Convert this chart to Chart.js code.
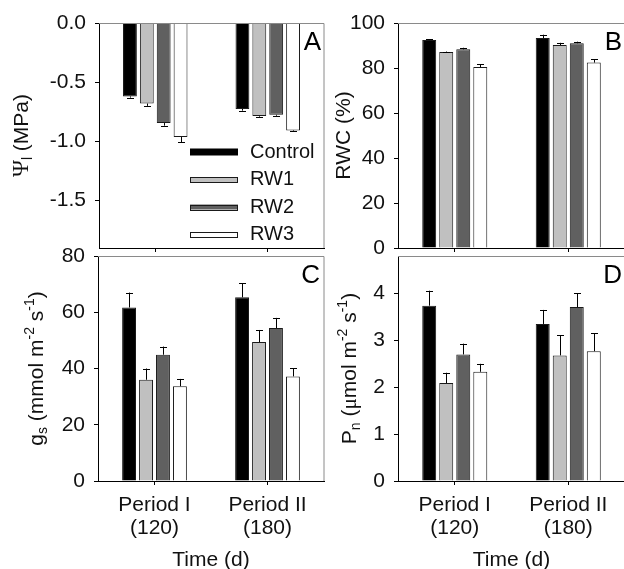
<!DOCTYPE html>
<html>
<head>
<meta charset="utf-8">
<script src="https://cdn.jsdelivr.net/npm/chart.js@4.4.1/dist/chart.umd.min.js"></script>
<style>
html, body { margin: 0; padding: 0; background: #fff; width: 624px; height: 569px; overflow: hidden; }
canvas { position: absolute; }
</style>
</head>
<body>
<canvas id="panelA" width="330" height="270" style="left:0;top:0"></canvas>
<canvas id="panelB" width="300" height="270" style="left:330px;top:0"></canvas>
<canvas id="panelC" width="330" height="338" style="left:0;top:234px"></canvas>
<canvas id="panelD" width="300" height="338" style="left:330px;top:234px"></canvas>
<script>
// categories and groups
const periods = [['Period I', '(120)'], ['Period II', '(180)']];
const treatments = ['Control', 'RW1', 'RW2', 'RW3'];
const fills = ['#000000', '#c0c0c0', '#606060', '#ffffff'];

// one row per treatment: [Period I, Period II]
const psiMean = [[-0.62, -0.726], [-0.68, -0.785], [-0.845, -0.775], [-0.963, -0.907]];
const psiErr  = [[0.01, 0.014], [0.02, 0.006], [0.022, 0.008], [0.045, 0.008]];
const rwcMean = [[92.4, 93.3], [87.1, 90.2], [88.3, 91.0], [80.4, 82.4]];
const rwcErr  = [[0.4, 1.5], [0.2, 1.0], [0.7, 0.7], [1.2, 1.5]];
const gsMean  = [[61.7, 65.3], [36.0, 49.4], [44.9, 54.4], [33.7, 37.2]];
const gsErr   = [[5.3, 5.1], [4.0, 4.3], [2.9, 3.6], [2.6, 2.9]];
const pnMean  = [[3.74, 3.35], [2.09, 2.68], [2.70, 3.71], [2.33, 2.77]];
const pnErr   = [[0.32, 0.30], [0.22, 0.43], [0.23, 0.30], [0.17, 0.38]];

// y tick settings
const psiTicks = { min: -1.9, max: 0, step: 0.5 };
const rwcTicks = { min: 0, max: 100, step: 20 };
const gsTicks  = { min: 0, max: 80, step: 20 };
const pnTicks  = { min: 0, max: 4.8, step: 1 };

const SANS = '"Liberation Sans", Arial, sans-serif';
const SERIF = '"Liberation Serif", "DejaVu Serif", serif';
const FS = 21;
const main = FS + 'px ' + SANS;
const sub = '14px ' + SANS;

function drawRuns(ctx, runs, cx, cy) {
    ctx.save();
    ctx.translate(cx, cy);
    ctx.rotate(-Math.PI / 2);
    ctx.textBaseline = 'middle';
    ctx.textAlign = 'left';
    ctx.fillStyle = '#111';
    let total = 0;
    runs.forEach(r => { ctx.font = r[1]; total += ctx.measureText(r[0]).width; });
    let x = -total / 2;
    runs.forEach(r => {
        ctx.font = r[1];
        ctx.fillText(r[0], x, r[2] || 0);
        x += ctx.measureText(r[0]).width;
    });
    ctx.restore();
}

const errorBars = {
    id: 'errorBars',
    afterDatasetsDraw(chart) {
        const ctx = chart.ctx;
        const y = chart.scales.y;
        ctx.save();
        ctx.strokeStyle = '#000';
        ctx.lineWidth = 1;
        chart.data.datasets.forEach((ds, i) => {
            chart.getDatasetMeta(i).data.forEach((bar, j) => {
                const v = ds.data[j];
                const e = ds.errors[j];
                const end = y.getPixelForValue(v < 0 ? v - e : v + e);
                const x = Math.round(bar.x) + 0.5;
                ctx.beginPath();
                ctx.moveTo(x, bar.y);
                ctx.lineTo(x, end);
                ctx.moveTo(x - 3.5, Math.round(end) + 0.5);
                ctx.lineTo(x + 3.5, Math.round(end) + 0.5);
                ctx.stroke();
            });
        });
        ctx.restore();
    }
};

const frame = {
    id: 'frame',
    afterDraw(chart, args, o) {
        const ctx = chart.ctx;
        const a = chart.chartArea;
        ctx.save();
        ctx.strokeStyle = '#8a8a8a';
        ctx.lineWidth = 1;
        ctx.beginPath();
        ctx.moveTo(a.left, Math.round(a.top) + 0.5);
        ctx.lineTo(a.right, Math.round(a.top) + 0.5);
        ctx.lineTo(a.right, a.bottom);
        ctx.stroke();
        // panel letter
        ctx.fillStyle = '#000';
        ctx.font = '26px ' + SANS;
        ctx.textAlign = 'right';
        ctx.textBaseline = 'alphabetic';
        ctx.fillText(o.letter, o.letterX, a.top + 27);
        // y title
        drawRuns(ctx, o.title, o.titleX, (a.top + a.bottom) / 2);
        ctx.restore();
    }
};

const insideLegend = {
    id: 'insideLegend',
    afterDraw(chart, args, o) {
        if (!o.show) return;
        const ctx = chart.ctx;
        const a = chart.chartArea;
        ctx.save();
        treatments.forEach((t, i) => {
            const cy = a.top + o.top + i * o.gap;
            const x0 = a.left + o.left;
            if (i === 0) {
                ctx.fillStyle = '#000';
                ctx.fillRect(x0, cy - 3.5, 48, 7);
            } else {
                ctx.fillStyle = fills[i];
                ctx.strokeStyle = '#1a1a1a';
                ctx.lineWidth = 1;
                ctx.fillRect(x0, cy - 2.5, 48, 5);
                ctx.strokeRect(x0 + 0.5, Math.round(cy - 2.5) + 0.5, 47, 5);
            }
            ctx.fillStyle = '#111';
            ctx.font = '20px ' + SANS;
            ctx.textAlign = 'left';
            ctx.textBaseline = 'middle';
            ctx.fillText(t, x0 + 60, cy);
        });
        ctx.restore();
    }
};

function makePanel(id, means, errs, tk, opt) {
    const ctx = document.getElementById(id).getContext('2d');
    return new Chart(ctx, {
        type: 'bar',
        data: {
            labels: periods,
            datasets: treatments.map((t, i) => ({
                label: t,
                data: means[i],
                errors: errs[i],
                backgroundColor: fills[i],
                borderColor: '#1a1a1a',
                borderWidth: 1,
                borderSkipped: 'start',
                barPercentage: 0.82,
                categoryPercentage: 0.6
            }))
        },
        options: {
            responsive: false,
            animation: false,
            devicePixelRatio: 1,
            layout: { padding: { top: opt.padTop, right: opt.padRight, left: 0, bottom: 0 } },
            plugins: {
                legend: { display: false },
                tooltip: { enabled: false },
                frame: { letter: opt.letter, letterX: opt.letterX, title: opt.title, titleX: opt.titleX },
                insideLegend: { show: !!opt.legend, left: 91, top: 129, gap: 27.5 }
            },
            scales: {
                x: {
                    grid: { display: true, drawOnChartArea: false, drawTicks: true, tickLength: 4, offset: false, color: '#000' },
                    border: { color: '#000', width: 1 },
                    ticks: {
                        display: opt.xLabels,
                        color: '#111',
                        font: { family: SANS, size: FS, lineHeight: 1.1 },
                        padding: 9,
                        maxRotation: 0
                    },
                    title: {
                        display: opt.xLabels,
                        text: 'Time (d)',
                        color: '#111',
                        font: { family: SANS, size: FS, lineHeight: 1.1 },
                        padding: { top: 0, bottom: 0 }
                    },
                    afterFit(s) { s.height = opt.xHeight; }
                },
                y: {
                    min: tk.min,
                    max: tk.max,
                    grid: { display: true, drawOnChartArea: false, drawTicks: true, tickLength: 4, color: '#000' },
                    border: { color: '#000', width: 1 },
                    ticks: {
                        stepSize: tk.step,
                        includeBounds: false,
                        color: '#111',
                        padding: 9,
                        font: { family: SANS, size: FS },
                        callback: v => opt.fixed ? v.toFixed(1) : String(v)
                    },
                    afterFit(s) { s.width = opt.yWidth; }
                }
            }
        },
        plugins: [errorBars, frame, insideLegend]
    });
}

makePanel('panelA', psiMean, psiErr, psiTicks, {
    padTop: 23, padRight: 6, yWidth: 99, xHeight: 22, xLabels: false, fixed: true,
    letter: 'A', letterX: 321, titleX: 22, legend: true,
    title: [['\u03A8', '23px ' + SERIF], ['l', sub, 6], [' (MPa)', main]]
});
makePanel('panelB', rwcMean, rwcErr, rwcTicks, {
    padTop: 23, padRight: 5, yWidth: 68, xHeight: 22, xLabels: false,
    letter: 'B', letterX: 292, titleX: 14,
    title: [['RWC (%)', main]]
});
makePanel('panelC', gsMean, gsErr, gsTicks, {
    padTop: 22, padRight: 6, yWidth: 98, xHeight: 91, xLabels: true,
    letter: 'C', letterX: 320, titleX: 37,
    title: [['g', main], ['s', sub, 6], [' (mmol m', main], ['-2', sub, -7], [' s', main], ['-1', sub, -7], [')', main]]
});
makePanel('panelD', pnMean, pnErr, pnTicks, {
    padTop: 22, padRight: 5, yWidth: 68, xHeight: 91, xLabels: true,
    letter: 'D', letterX: 292, titleX: 20,
    title: [['P', main], ['n', sub, 6], [' (', main], ['\u03BC', FS + 'px ' + SERIF], ['mol m', main], ['-2', sub, -7], [' s', main], ['-1', sub, -7], [')', main]]
});
</script>
</body>
</html>
